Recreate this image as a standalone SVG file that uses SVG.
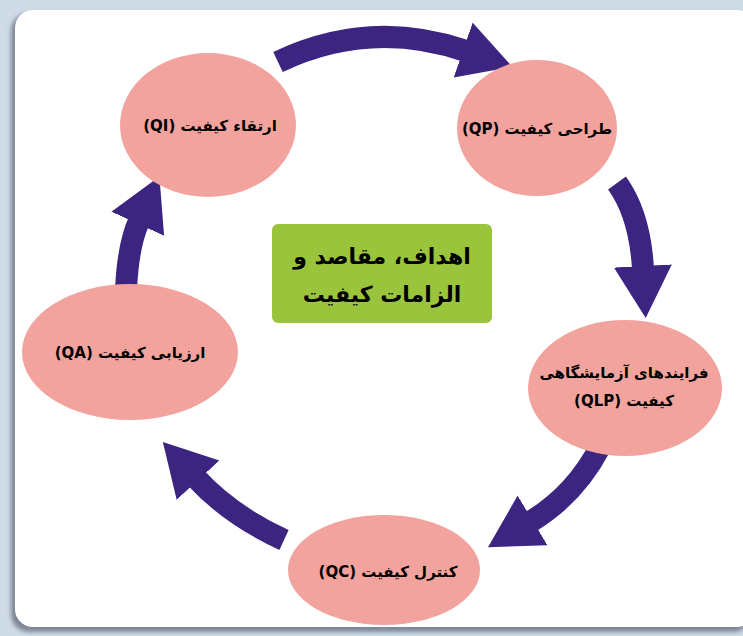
<svg xmlns="http://www.w3.org/2000/svg" width="743" height="636" viewBox="0 0 743 636">
<defs>
<style>
.node ellipse{fill:#f3a39d;}
.lbl{font-family:"DejaVu Sans",sans-serif;font-weight:bold;font-size:15px;fill:#000;text-anchor:middle;direction:rtl;unicode-bidi:embed;}
.big{font-size:22px;}
.conn path{fill:none;stroke:#3b2580;stroke-width:22;}
</style>
<marker id="head" markerUnits="userSpaceOnUse" markerWidth="60" markerHeight="60" viewBox="0 0 60 60" refX="3" refY="29" orient="auto">
<path d="M0,0 L52,29 L0,58 Z" fill="#3b2580"/>
</marker>
<filter id="sh" x="-5%" y="-5%" width="110%" height="110%">
<feGaussianBlur stdDeviation="2"/>
</filter>
</defs>
<rect x="0" y="0" width="743" height="636" fill="#cfdbe7"/>
<rect x="11" y="13" width="740" height="619" rx="18" fill="#7d8796" filter="url(#sh)"/>
<rect x="15" y="10" width="740" height="617" rx="18" fill="#ffffff"/>
<g id="connectors" class="conn">
<path d="M278,62 Q370,18 466,51" marker-end="url(#head)"/>
<path d="M617,183 Q640,215 643,269" marker-end="url(#head)"/>
<path d="M600,447 Q575,495 530,522" marker-end="url(#head)"/>
<path d="M284,540 Q230,515 196,478" marker-end="url(#head)"/>
<path d="M126,290 Q128,245 139,221" marker-end="url(#head)"/>
</g>
<g id="qi" class="node">
<ellipse cx="208" cy="125" rx="88" ry="72"/>
<text class="lbl" x="210" y="131">ارتقاء کیفیت (QI)</text>
</g>
<g id="qp" class="node">
<ellipse cx="537" cy="128" rx="80" ry="68"/>
<text class="lbl" x="537" y="134">طراحی کیفیت (QP)</text>
</g>
<g id="qlp" class="node">
<ellipse cx="625" cy="388" rx="97" ry="68"/>
<text class="lbl" x="624" y="378">فرایندهای آزمایشگاهی</text>
<text class="lbl" x="624" y="406">کیفیت (QLP)</text>
</g>
<g id="qc" class="node">
<ellipse cx="384" cy="570" rx="96" ry="55"/>
<text class="lbl" x="388" y="577">کنترل کیفیت (QC)</text>
</g>
<g id="qa" class="node">
<ellipse cx="130" cy="352" rx="108" ry="68"/>
<text class="lbl" x="130" y="358">ارزیابی کیفیت (QA)</text>
</g>
<g id="goals">
<rect x="272" y="224" width="220" height="99" rx="6" fill="#9bc43d"/>
<text class="lbl big" x="382" y="264">اهداف، مقاصد و</text>
<text class="lbl big" x="382" y="302">الزامات کیفیت</text>
</g>
</svg>
